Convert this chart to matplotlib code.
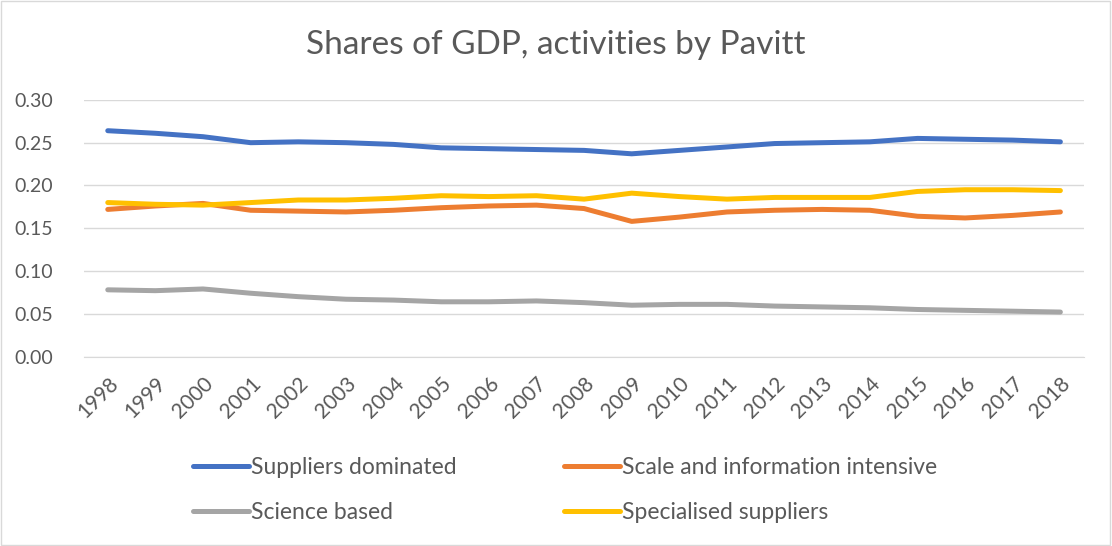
import matplotlib.pyplot as plt
from matplotlib.patches import Rectangle

years = [str(y) for y in range(1998, 2019)]

suppliers_dominated = [0.264, 0.261, 0.257, 0.250, 0.251, 0.250, 0.248, 0.244, 0.243, 0.242, 0.241,
                       0.237, 0.241, 0.245, 0.249, 0.250, 0.251, 0.255, 0.254, 0.253, 0.251]
scale_info_intensive = [0.172, 0.176, 0.179, 0.171, 0.170, 0.169, 0.171, 0.174, 0.176, 0.177, 0.173,
                        0.158, 0.163, 0.169, 0.171, 0.172, 0.171, 0.164, 0.162, 0.165, 0.169]
science_based = [0.078, 0.077, 0.079, 0.074, 0.070, 0.067, 0.066, 0.064, 0.064, 0.065, 0.063,
                 0.060, 0.061, 0.061, 0.059, 0.058, 0.057, 0.055, 0.054, 0.053, 0.052]
specialised_suppliers = [0.180, 0.178, 0.177, 0.180, 0.183, 0.183, 0.185, 0.188, 0.187, 0.188, 0.184,
                         0.191, 0.187, 0.184, 0.186, 0.186, 0.186, 0.193, 0.195, 0.195, 0.194]

plt.rcParams['font.family'] = ['Lato', 'DejaVu Sans']
text_color = '#595959'

fig = plt.figure(figsize=(11.12, 5.46), dpi=100)
ax = fig.add_axes([0.0755, 0.347, 0.8995, 0.470])

x = range(len(years))
lw = 3.6
l1, = ax.plot(x, suppliers_dominated, color='#4472C4', lw=lw, solid_capstyle='round', label='Suppliers dominated')
l2, = ax.plot(x, scale_info_intensive, color='#ED7D31', lw=lw, solid_capstyle='round', label='Scale and information intensive')
l3, = ax.plot(x, science_based, color='#A5A5A5', lw=lw, solid_capstyle='round', label='Science based')
l4, = ax.plot(x, specialised_suppliers, color='#FFC000', lw=lw, solid_capstyle='round', label='Specialised suppliers')

ax.set_xlim(-0.5, len(years) - 0.5)
ax.set_ylim(0, 0.30)
yt = [0, 0.05, 0.10, 0.15, 0.20, 0.25, 0.30]
ax.set_yticks(yt)
ax.set_yticklabels([f'{v:.2f}' for v in yt])
ax.set_xticks(list(x))
ax.set_xticklabels(years, rotation=45, ha='right', rotation_mode='anchor')
ax.grid(axis='y', color='#D9D9D9', lw=1)
ax.set_axisbelow(True)
for s in ['top', 'right', 'left']:
    ax.spines[s].set_visible(False)
ax.spines['bottom'].set_color('#D9D9D9')
ax.tick_params(axis='both', length=0, colors=text_color)
ax.tick_params(axis='y', pad=22, labelsize=14)
ax.tick_params(axis='x', pad=12, labelsize=15)

fig.suptitle('Shares of GDP, activities by Pavitt', y=0.945, fontsize=24, color=text_color)

fig.legend(handles=[l1, l3, l2, l4], loc='upper left', bbox_to_anchor=(0.155, 0.2), ncol=2,
           frameon=False, fontsize=16.5, labelcolor=text_color, handlelength=2.45,
           handletextpad=0.1, columnspacing=4.65, labelspacing=1.05)

fig.add_artist(Rectangle((0.001, 0.001), 0.997, 0.997, transform=fig.transFigure,
                         fill=False, edgecolor='#D9D9D9', lw=1))

fig.savefig('out.png', dpi=100)
